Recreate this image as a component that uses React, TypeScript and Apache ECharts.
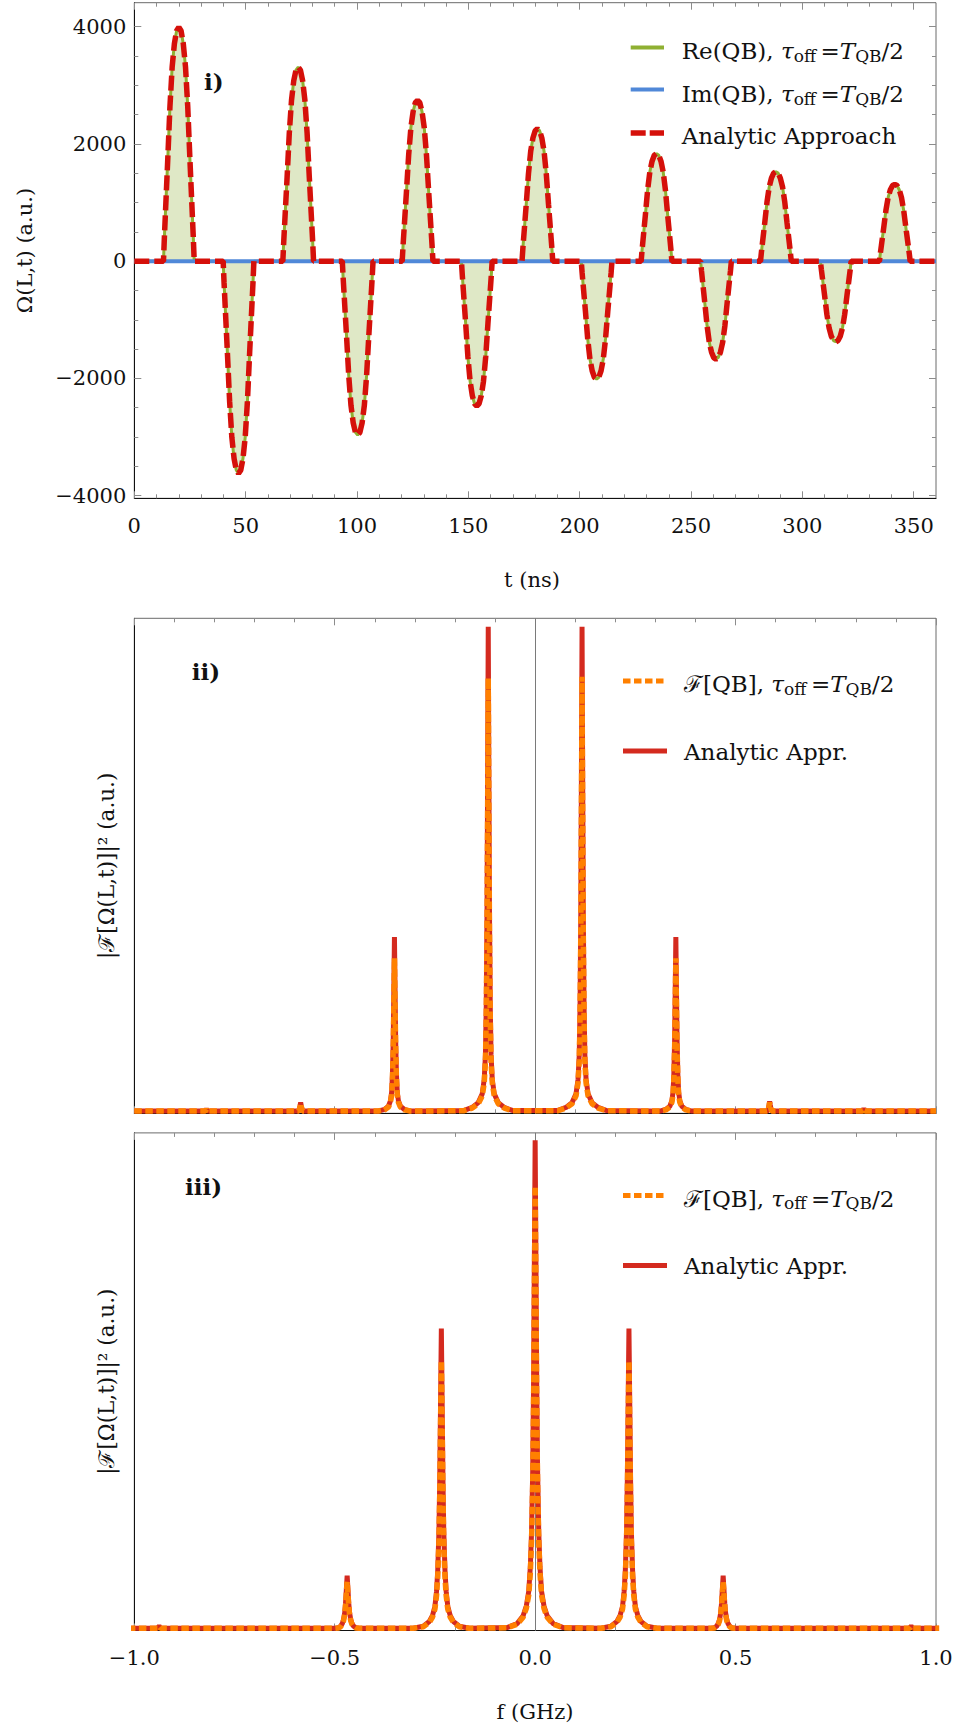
import React, { useEffect, useRef } from 'react';
import * as echarts from 'echarts';

const W = 960;
const H = 1726;
const SERIF = "'DejaVu Serif', 'Liberation Serif', serif";
const INK = '#111111';
const TICK_GRAY = '#8c8c8c';

// ---------- panel i : time trace of the pulse train ----------
const T_RANGE = [0, 360];
const OMEGA_RANGE = [-4045, 4410];
const PULSE_CENTERS = [20.0, 46.8, 73.6, 100.3, 127.2, 153.8, 181.0, 207.6, 234.5, 261.2, 288.1, 315.0, 341.5];
const PULSE_PEAKS = [3990, -3620, 3310, -2965, 2745, -2470, 2260, -2010, 1835, -1670, 1525, -1375, 1310];
const PULSE_OFFSETS = [-6.9, -6.5, -6.0, -5.5, -5.0, -4.0, -3.0, -2.0, -1.0, 0, 1.0, 2.0, 3.0, 4.0, 5.0, 5.5, 6.0, 6.5, 6.9];
const PULSE_SHAPE = [0, 0.1, 0.21, 0.32, 0.43, 0.66, 0.83, 0.93, 0.985, 1, 0.985, 0.93, 0.83, 0.66, 0.43, 0.32, 0.21, 0.1, 0];
const IM_T = [0, 360];
const IM_VALUES = [0, 0];
const T_MAJOR = [0, 50, 100, 150, 200, 250, 300, 350];
const T_MINOR = [10, 20, 30, 40, 60, 70, 80, 90, 110, 120, 130, 140, 160, 170, 180, 190, 210, 220, 230, 240, 260, 270, 280, 290, 310, 320, 330, 340];
const OMEGA_MAJOR = [-4000, -2000, 0, 2000, 4000];
const OMEGA_MINOR = [-3500, -3000, -2500, -1500, -1000, -500, 500, 1000, 1500, 2500, 3000, 3500];

// ---------- panels ii and iii : power spectra ----------
const F_RANGE = [-1, 1];
const POWER_RANGE = [0, 1];
const F_MAJOR = [-1, -0.5, 0, 0.5, 1];
const F_MINOR = [-0.9, -0.8, -0.7, -0.6, -0.4, -0.3, -0.2, -0.1, 0.1, 0.2, 0.3, 0.4, 0.6, 0.7, 0.8, 0.9];
const SPEC_FLOOR = 0.0045;

const SPEC2_FREQS = [-0.82, -0.585, -0.351, -0.117, 0.117, 0.351, 0.585, 0.82];
const SPEC2_ANALYTIC = [0.009, 0.022, 0.356, 0.983, 0.983, 0.356, 0.024, 0.01];
const SPEC2_NUMERIC = [0.008, 0.02, 0.313, 0.879, 0.882, 0.313, 0.022, 0.009];
const SPEC2_OFFSETS = [-0.06, -0.04, -0.025, -0.015, -0.01, -0.007, -0.005, -0.003, -0.0015, 0, 0.0015, 0.003, 0.005, 0.007, 0.01, 0.015, 0.025, 0.04, 0.06];
const SPEC2_SHAPE = [0.006, 0.012, 0.022, 0.04, 0.07, 0.12, 0.22, 0.42, 0.7, 1, 0.7, 0.42, 0.22, 0.12, 0.07, 0.04, 0.022, 0.012, 0.006];

const SPEC3_FREQS = [-0.938, -0.469, -0.234, 0, 0.234, 0.469, 0.938];
const SPEC3_ANALYTIC = [0.009, 0.11, 0.607, 0.985, 0.607, 0.11, 0.009];
const SPEC3_NUMERIC = [0.008, 0.098, 0.542, 0.893, 0.542, 0.098, 0.008];
const SPEC3_OFFSETS = [-0.07, -0.045, -0.03, -0.022, -0.016, -0.012, -0.009, -0.006, -0.004, -0.002, 0, 0.002, 0.004, 0.006, 0.009, 0.012, 0.016, 0.022, 0.03, 0.045, 0.07];
const SPEC3_SHAPE = [0.006, 0.014, 0.03, 0.05, 0.08, 0.13, 0.2, 0.33, 0.5, 0.75, 1, 0.75, 0.5, 0.33, 0.2, 0.13, 0.08, 0.05, 0.03, 0.014, 0.006];

// ---------- colours ----------
const GREEN = '#8fb032';
const GREEN_FILL = '#dfe8c6';
const BLUE = '#5088d8';
const RED_DASH = '#d5100a';
const RED = '#d42a1f';
const ORANGE = '#ff8000';

// ---------- layout of the three frames ----------
const FRAME_LEFT = 134.3;
const FRAME_WIDTH = 801.7;
const PANELS = [
  { top: 2.7, height: 495.6 },
  { top: 618.3, height: 495 },
  { top: 1132.9, height: 497.6 },
];

function pulseTrain(): number[][] {
  const pts: number[][] = [[T_RANGE[0], 0]];
  PULSE_CENTERS.forEach((c, k) => {
    PULSE_OFFSETS.forEach((dt, j) => pts.push([c + dt, PULSE_PEAKS[k] * PULSE_SHAPE[j]]));
  });
  pts.push([T_RANGE[1], 0]);
  return pts;
}

function spectrum(freqs: number[], heights: number[], offsets: number[], shape: number[]): number[][] {
  const pts: number[][] = [[F_RANGE[0], SPEC_FLOOR]];
  freqs.forEach((f0, k) => {
    offsets.forEach((df, j) => pts.push([f0 + df, Math.max(SPEC_FLOOR, heights[k] * shape[j])]));
  });
  pts.push([F_RANGE[1], SPEC_FLOOR]);
  return pts;
}

const minusFmt = (v: number) => (v < 0 ? '\u2212' + Math.abs(v) : String(v));
const freqFmt = (v: number) => (v < 0 ? '\u2212' : '') + Math.abs(v).toFixed(1);

type AxisOpts = {
  gridIndex: number;
  position: string;
  range: number[];
  ticks: number[];
  length: number;
  line?: boolean;
  labels?: boolean;
  fmt?: (v: number) => string;
  margin?: number;
};

function axis(o: AxisOpts): any {
  return {
    type: 'value',
    gridIndex: o.gridIndex,
    position: o.position,
    min: o.range[0],
    max: o.range[1],
    axisLine: { show: !!o.line, onZero: false, lineStyle: { color: INK, width: 1 } },
    splitLine: { show: false },
    minorTick: { show: false },
    axisTick: {
      show: o.ticks.length > 0,
      inside: true,
      length: o.length,
      customValues: o.ticks,
      lineStyle: { color: TICK_GRAY, width: 1 },
    },
    axisLabel: o.labels
      ? {
          show: true,
          customValues: o.ticks,
          formatter: o.fmt,
          margin: o.margin,
          fontFamily: SERIF,
          fontSize: 21,
          color: INK,
        }
      : { show: false },
    axisPointer: { show: false },
  };
}

// Frame ticks for one panel: bottom/top x axes, each with a major and a minor layer.
function xFrame(g: number, range: number[], major: number[], minor: number[], labels: boolean, fmt?: (v: number) => string) {
  return [
    axis({ gridIndex: g, position: 'bottom', range, ticks: major, length: 7, line: true, labels, fmt, margin: 17 }),
    axis({ gridIndex: g, position: 'bottom', range, ticks: minor, length: 4 }),
    axis({ gridIndex: g, position: 'top', range, ticks: major, length: 7 }),
    axis({ gridIndex: g, position: 'top', range, ticks: minor, length: 4 }),
  ];
}

function legendText(main: string, x: number, y: number) {
  return {
    type: 'text',
    x,
    y,
    silent: true,
    style: {
      text: main,
      align: 'left',
      verticalAlign: 'middle',
      rich: {
        r: { fontFamily: SERIF, fontSize: 23, lineHeight: 26, fill: INK },
        i: { fontFamily: SERIF, fontSize: 23, lineHeight: 26, fontStyle: 'italic', fill: INK },
        s: { fontFamily: SERIF, fontSize: 17, lineHeight: 13, verticalAlign: 'bottom', fill: INK },
      },
    },
  };
}

function sample(x1: number, x2: number, y: number, stroke: string, lineWidth: number, lineDash?: number[]) {
  return {
    type: 'line',
    silent: true,
    shape: { x1, y1: y, x2, y2: y },
    style: { stroke, lineWidth, lineDash: lineDash || null, lineCap: 'butt' },
  };
}

function plainText(text: string, x: number, y: number, size: number, opts: any = {}) {
  return {
    type: 'text',
    x,
    y,
    rotation: opts.rotation || 0,
    silent: true,
    style: {
      text,
      fontFamily: SERIF,
      fontSize: size,
      fontWeight: opts.bold ? 'bold' : 'normal',
      fill: INK,
      align: opts.align || 'center',
      verticalAlign: 'middle',
    },
  };
}

function buildOption(): any {
  const trace = pulseTrain();
  const imTrace = IM_T.map((t, i) => [t, IM_VALUES[i]]);
  const s2a = spectrum(SPEC2_FREQS, SPEC2_ANALYTIC, SPEC2_OFFSETS, SPEC2_SHAPE);
  const s2n = spectrum(SPEC2_FREQS, SPEC2_NUMERIC, SPEC2_OFFSETS, SPEC2_SHAPE);
  const s3a = spectrum(SPEC3_FREQS, SPEC3_ANALYTIC, SPEC3_OFFSETS, SPEC3_SHAPE);
  const s3n = spectrum(SPEC3_FREQS, SPEC3_NUMERIC, SPEC3_OFFSETS, SPEC3_SHAPE);

  const grid = PANELS.map((p) => ({
    left: FRAME_LEFT,
    width: FRAME_WIDTH,
    top: p.top,
    height: p.height,
    show: true,
    borderColor: '#6b6b6b',
    borderWidth: 1,
    backgroundColor: 'transparent',
    containLabel: false,
    outerBoundsMode: 'none',
  }));

  // x axes: 0-3 panel i, 4-7 panel ii, 8-11 panel iii
  const xAxis = [
    ...xFrame(0, T_RANGE, T_MAJOR, T_MINOR, true, (v: number) => String(v)),
    ...xFrame(1, F_RANGE, F_MAJOR, F_MINOR, false),
    ...xFrame(2, F_RANGE, F_MAJOR, F_MINOR, true, freqFmt),
  ];
  // y axes: 0-3 panel i, 4 panel ii, 5 panel iii
  const yAxis = [
    axis({ gridIndex: 0, position: 'left', range: OMEGA_RANGE, ticks: OMEGA_MAJOR, length: 7, line: true, labels: true, fmt: minusFmt, margin: 8 }),
    axis({ gridIndex: 0, position: 'left', range: OMEGA_RANGE, ticks: OMEGA_MINOR, length: 4 }),
    axis({ gridIndex: 0, position: 'right', range: OMEGA_RANGE, ticks: OMEGA_MAJOR, length: 7 }),
    axis({ gridIndex: 0, position: 'right', range: OMEGA_RANGE, ticks: OMEGA_MINOR, length: 4 }),
    axis({ gridIndex: 1, position: 'left', range: POWER_RANGE, ticks: [], length: 0, line: true }),
    axis({ gridIndex: 2, position: 'left', range: POWER_RANGE, ticks: [], length: 0, line: true }),
  ];

  const base = { type: 'line', showSymbol: false, symbol: 'none', silent: true, animation: false, clip: true };
  const zeroLine = {
    silent: true,
    z: 1,
    symbol: ['none', 'none'],
    label: { show: false },
    lineStyle: { color: '#7a7a7a', width: 1, type: 'solid' },
    data: [{ xAxis: 0 }],
    animation: false,
  };

  const series = [
    {
      ...base,
      name: 'Re(QB)',
      xAxisIndex: 0,
      yAxisIndex: 0,
      data: trace,
      z: 2,
      lineStyle: { color: GREEN, width: 3 },
      areaStyle: { color: GREEN_FILL, opacity: 1, origin: 'auto' },
    },
    {
      ...base,
      name: 'Im(QB)',
      xAxisIndex: 0,
      yAxisIndex: 0,
      data: imTrace,
      z: 3,
      lineStyle: { color: BLUE, width: 4 },
    },
    {
      ...base,
      name: 'Analytic Approach',
      xAxisIndex: 0,
      yAxisIndex: 0,
      data: trace,
      z: 4,
      lineStyle: { color: RED_DASH, width: 5.5, type: [15, 5], cap: 'butt' },
    },
    {
      ...base,
      name: 'Analytic Appr. ii',
      xAxisIndex: 4,
      yAxisIndex: 4,
      data: s2a,
      z: 3,
      lineStyle: { color: RED, width: 5 },
      markLine: zeroLine,
    },
    {
      ...base,
      name: 'F[QB] ii',
      xAxisIndex: 4,
      yAxisIndex: 4,
      data: s2n,
      z: 4,
      lineStyle: { color: ORANGE, width: 5.5, type: [7.5, 3.5], cap: 'butt' },
    },
    {
      ...base,
      name: 'Analytic Appr. iii',
      xAxisIndex: 8,
      yAxisIndex: 5,
      data: s3a,
      z: 3,
      lineStyle: { color: RED, width: 5 },
      markLine: zeroLine,
    },
    {
      ...base,
      name: 'F[QB] iii',
      xAxisIndex: 8,
      yAxisIndex: 5,
      data: s3n,
      z: 4,
      lineStyle: { color: ORANGE, width: 5.5, type: [7.5, 3.5], cap: 'butt' },
    },
  ];

  const qbTail = '{i|\u03c4}{s|off}{r|\u2009=}{i|T}{s|QB}{r|/2}';
  const top2 = PANELS[1].top;
  const top3 = PANELS[2].top;

  const graphic = [
    // panel i legend
    sample(630.7, 664, 47.5, GREEN, 4),
    sample(630.7, 664, 89.5, BLUE, 4),
    sample(630.7, 664, 133, RED_DASH, 5.3, [15, 4]),
    legendText('{r|Re(QB), }' + qbTail, 681.7, 51),
    legendText('{r|Im(QB), }' + qbTail, 681.7, 94.2),
    legendText('{r|Analytic Approach}', 681.7, 135.8),
    // panel ii legend
    sample(623, 665, top2 + 62.7, ORANGE, 5, [7.5, 3.5]),
    sample(623, 667, top2 + 132.7, RED, 5),
    legendText('{r|\u2131[QB], }' + qbTail, 684, top2 + 65.7),
    legendText('{r|Analytic Appr.}', 684, top2 + 133.4),
    // panel iii legend
    sample(623, 665, top3 + 62.7, ORANGE, 5, [7.5, 3.5]),
    sample(623, 667, top3 + 132.7, RED, 5),
    legendText('{r|\u2131[QB], }' + qbTail, 684, top3 + 65.7),
    legendText('{r|Analytic Appr.}', 684, top3 + 133.4),
    // panel tags
    plainText('i)', 204, 81.7, 23, { bold: true, align: 'left' }),
    plainText('ii)', 191.7, top2 + 53.4, 23, { bold: true, align: 'left' }),
    plainText('iii)', 185, top3 + 53.4, 23, { bold: true, align: 'left' }),
    // axis titles
    plainText('\u03a9(L,t) (a.u.)', 25, PANELS[0].top + PANELS[0].height / 2, 21, { rotation: Math.PI / 2 }),
    plainText('|\u2131[\u03a9(L,t)]|\u00b2 (a.u.)', 106, top2 + PANELS[1].height / 2, 21.5, { rotation: Math.PI / 2 }),
    plainText('|\u2131[\u03a9(L,t)]|\u00b2 (a.u.)', 106, top3 + PANELS[2].height / 2, 21.5, { rotation: Math.PI / 2 }),
    plainText('t (ns)', 532, 580, 21),
    plainText('f (GHz)', 535, 1712, 21),
  ];

  return {
    animation: false,
    backgroundColor: '#ffffff',
    grid,
    xAxis,
    yAxis,
    series,
    graphic,
  };
}

export default function App() {
  const ref = useRef<HTMLDivElement>(null);
  useEffect(() => {
    document.body.style.margin = '0';
    const chart = echarts.init(ref.current as HTMLDivElement, null, { renderer: 'svg', width: W, height: H });
    chart.setOption(buildOption());
    return () => chart.dispose();
  }, []);
  return <div ref={ref} style={{ width: W, height: H }} />;
}
